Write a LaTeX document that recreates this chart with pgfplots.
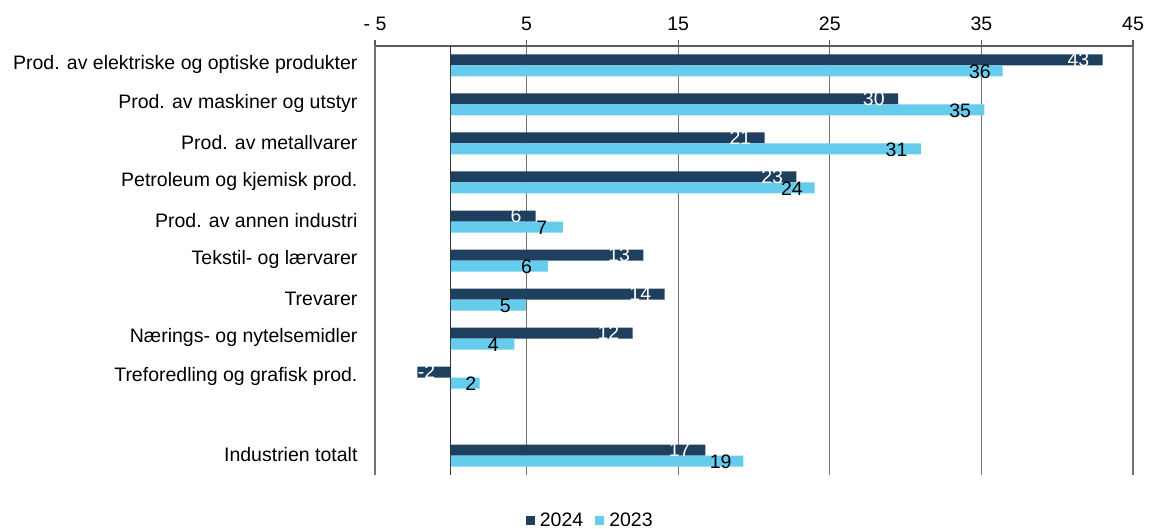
\documentclass[border=0pt]{standalone}
\usepackage{pgfplots}
\pgfplotsset{compat=1.18}
\usepackage{pgfplotstable}
\usepackage{fontspec}
\setmainfont{Liberation Sans}
\definecolor{dark}{HTML}{1F3F5F}
\definecolor{light}{HTML}{66CCEE}
\definecolor{gridc}{HTML}{727272}

\pgfplotstableread{
y v lx lab
10 43.0 41.4 43
9 29.5 27.9 30
8 20.7 19.1 21
7 22.8 21.2 23
6 5.6 4.3 6
5 12.7 11.1 13
4 14.1 12.5 14
3 12.0 10.4 12
2 -2.2 -1.6 -2
0 16.8 15.1 17
}\dataA

\pgfplotstableread{
y v lx lab
10 36.4 34.9 36
9 35.2 33.6 35
8 31.0 29.4 31
7 24.0 22.5 24
6 7.4 6.0 7
5 6.4 5.0 6
4 4.95 3.6 5
3 4.2 2.8 4
2 1.9 1.32 2
0 19.3 17.8 19
}\dataB

\begin{document}
\begin{tikzpicture}
\useasboundingbox (0,0) rectangle (1149pt,528pt);
\begin{axis}[
  at={(375pt,53pt)}, anchor=south west,
  scale only axis, width=758pt, height=429pt,
  xmin=-5, xmax=45, ymin=-0.5, ymax=10.5,
  axis x line*=top, axis y line*=left,
  y axis line style={draw=gridc, line width=1.3pt},
  x axis line style={draw=gridc!80!black, line width=1.2pt},
  xtick={-5,5,15,25,35,45},
  xticklabels={- 5,5,15,25,35,45},
  xmajorgrids, grid style={draw=gridc, line width=1.2pt},
  extra x ticks={0}, extra x tick labels={},
  extra x tick style={grid style={draw=black!80, line width=1.3pt}, major tick length=0pt},
  tick align=outside, major tick length=6pt,
  xtick style={draw=gridc!80!black, line width=1.2pt},
  ytick={0,2,3,4,5,6,7,8,9,10},
  yticklabels={Industrien totalt, Treforedling og grafisk prod., Nærings- og nytelsemidler, Trevarer, Tekstil- og lærvarer, Prod. av annen industri, Petroleum og kjemisk prod., Prod. av metallvarer, Prod. av maskiner og utstyr, Prod. av elektriske og optiske produkter},
  ytick style={draw=none},
  ticklabel style={font=\fontsize{19.5}{23}\selectfont, text=black},
  xticklabel style={yshift=6pt},
  yticklabel style={xshift=-8pt, yshift=1pt},
  legend style={at={(0.284,-0.105)}, anchor=center, draw=none, fill=none,
    legend columns=2, font=\fontsize{19.5}{23}\selectfont,
    /tikz/every even column/.append style={column sep=10pt}},
]
\addplot[xbar, bar width=11pt, bar shift=5.5pt, fill=dark, draw=none,
  legend image code/.code={\fill[dark] (0pt,-4.5pt) rectangle (9pt,4.5pt); \path (12pt,0pt);}]
  table[x=v, y=y] {\dataA};
\addlegendentry{2024}
\addplot[xbar, bar width=11pt, bar shift=-5.5pt, fill=light, draw=none,
  legend image code/.code={\fill[light] (0pt,-4.5pt) rectangle (9pt,4.5pt); \path (12pt,0pt);}]
  table[x=v, y=y] {\dataB};
\addlegendentry{2023}
\addplot[draw=none, forget plot, nodes near coords, point meta=explicit symbolic,
  every node near coord/.style={anchor=center, yshift=5.5pt, text=white,
    font=\fontsize{19.5}{23}\selectfont}]
  table[x=lx, y=y, meta=lab] {\dataA};
\addplot[draw=none, forget plot, nodes near coords, point meta=explicit symbolic,
  every node near coord/.style={anchor=center, yshift=-6pt, text=black,
    font=\fontsize{19.5}{23}\selectfont}]
  table[x=lx, y=y, meta=lab] {\dataB};
\end{axis}
\end{tikzpicture}
\end{document}
